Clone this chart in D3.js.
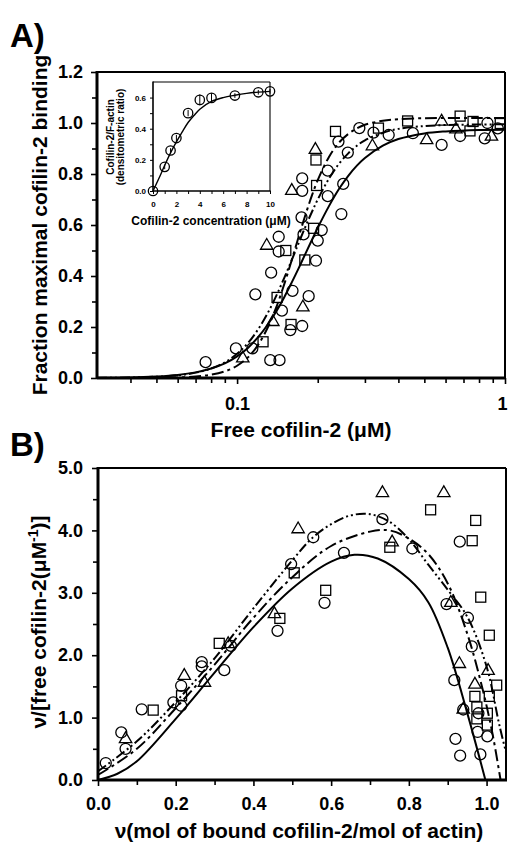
<!DOCTYPE html>
<html>
<head>
<meta charset="utf-8">
<script src="https://d3js.org/d3.v7.min.js"></script>
<style>
  body { margin: 0; background: #fff; }
  text { font-family: "Liberation Sans", Arial, sans-serif; font-weight: bold; fill: #000; }
</style>
</head>
<body>
<script>

// ---------- data, panel A (main: free cofilin-2 vs fraction bound)

const aCircles = [[0.0763,0.062],[0.099,0.116],[0.114,0.116],[0.133,0.07],[0.144,0.07],[0.117,0.328],
  [0.134,0.413],[0.143,0.554],[0.143,0.496],[0.174,0.63],[0.175,0.783],[0.175,0.734],[0.218,0.813],
  [0.239,0.927],[0.218,0.713],[0.245,0.643],[0.207,0.58],[0.2,0.539],[0.197,0.46],[0.177,0.563],
  [0.161,0.342],[0.185,0.321],[0.147,0.264],[0.175,0.204],[0.158,0.188],[0.259,0.884],[0.249,0.761],
  [0.286,0.98],[0.323,0.962],[0.368,0.953],[0.453,0.96],[0.58,0.914],[0.68,0.949],[0.86,1.0],
  [0.84,0.94],[0.94,0.979]];
const aSquares = [[0.125,0.142],[0.152,0.5],[0.198,0.755],[0.233,0.967],[0.197,0.855],[0.193,0.587],
  [0.179,0.463],[0.141,0.316],[0.159,0.21],[0.337,0.98],[0.433,1.008],[0.68,1.027],[0.74,0.969],
  [0.76,1.006],[0.96,0.998]];
const aTriangles = [[0.105,0.077],[0.129,0.519],[0.16,0.734],[0.196,0.895],[0.176,0.277],[0.136,0.22],
  [0.32,0.909],[0.51,0.933],[0.58,1.006],[0.656,0.975],[0.89,0.947]];

// fitted curves, read at these concentrations
const aCurveX = [0.03,0.04,0.05,0.06,0.07,0.08,0.09,0.10,0.11,0.12,0.13,0.14,0.15,0.16,0.17,0.18,0.19,
  0.20,0.22,0.24,0.26,0.28,0.30,0.35,0.40,0.50,0.60,0.80,1.0];
const aSolid = [0.001,0.002,0.006,0.012,0.022,0.037,0.057,0.085,0.119,0.161,0.209,0.261,0.317,0.375,
  0.432,0.488,0.540,0.589,0.673,0.741,0.793,0.833,0.863,0.911,0.937,0.959,0.967,0.973,0.974];
const aDashDot = [0.0,0.0,0.001,0.002,0.006,0.013,0.026,0.048,0.082,0.131,0.197,0.277,0.368,0.463,
  0.556,0.640,0.714,0.776,0.866,0.923,0.957,0.979,0.993,1.009,1.015,1.019,1.02,1.02,1.02];
const aDashDotDot = [0.0,0.002,0.005,0.010,0.021,0.037,0.061,0.095,0.138,0.192,0.254,0.322,0.393,0.463,
  0.531,0.594,0.650,0.700,0.781,0.840,0.881,0.911,0.932,0.962,0.977,0.988,0.992,0.994,0.995];

// inset: cofilin-2 concentration vs densitometric ratio
const insetX = [0, 1, 1.5, 2, 3, 4, 5, 7, 9, 10];
const insetY = [0, 0.155, 0.26, 0.34, 0.50, 0.585, 0.598, 0.613, 0.634, 0.64];
const insetErr = [0, 0.015, 0.015, 0.02, 0.02, 0.035, 0.03, 0.015, 0.015, 0.015];
const insetCurveX = [0, 0.5, 1, 1.5, 2, 2.5, 3, 3.5, 4, 5, 6, 7, 8, 9, 10];
const insetCurveY = [0, 0.08, 0.165, 0.245, 0.315, 0.38, 0.44, 0.485, 0.525, 0.575, 0.6, 0.615, 0.627, 0.635, 0.64];

// ---------- data, panel B (Scatchard-type plot)

const bCircles = [[0.02,0.272],[0.06,0.762],[0.071,0.5],[0.1125,1.133],[0.194,1.245],[0.214,1.19],
  [0.214,1.51],[0.267,1.82],[0.267,1.89],[0.325,1.76],[0.342,2.15],[0.462,2.39],[0.497,3.46],
  [0.554,3.89],[0.633,3.64],[0.732,4.18],[0.931,3.82],[0.809,3.71],[0.583,2.84],[0.897,2.82],
  [0.952,2.6],[0.962,2.14],[0.917,1.6],[0.94,1.13],[0.979,1.07],[0.977,0.77],[1.002,0.7],
  [0.92,0.66],[0.932,0.39],[0.984,0.41]];
const bSquares = [[0.142,1.12],[0.215,1.35],[0.312,2.19],[0.468,2.59],[0.505,3.32],[0.586,3.04],
  [0.751,3.73],[0.856,4.33],[0.972,4.16],[0.963,3.835],[0.985,2.93],[1.007,2.32],[1.026,1.52],
  [0.97,1.34],[1.007,1.34],[0.975,0.98],[1.002,1.07],[1.002,0.88],[0.975,1.17]];
const bTriangles = [[0.071,0.657],[0.222,1.67],[0.274,1.56],[0.335,2.18],[0.454,2.66],[0.515,4.02],
  [0.732,4.6],[0.89,4.6],[0.757,3.81],[0.908,2.84],[0.93,1.86],[1.004,1.75],[0.97,1.53],[0.94,1.13]];

const bSolid = [[0,0],[0.05,0.1],[0.1,0.3],[0.2,0.98],[0.3,1.72],[0.4,2.45],[0.5,3.07],[0.6,3.5],
  [0.66,3.61],[0.72,3.55],[0.8,3.22],[0.85,2.85],[0.9,2.12],[0.95,1.08],[0.997,0]];
const bDashDot = [[0,0.08],[0.1,0.5],[0.2,1.15],[0.3,1.85],[0.4,2.6],[0.5,3.25],[0.6,3.75],[0.7,3.98],
  [0.75,4.0],[0.8,3.87],[0.85,3.62],[0.9,3.15],[0.95,2.35],[0.99,1.45],[1.015,0.75],[1.036,0]];
const bDashDotDot = [[0,0.14],[0.1,0.62],[0.2,1.25],[0.3,1.95],[0.4,2.75],[0.5,3.52],[0.55,3.87],
  [0.6,4.1],[0.65,4.24],[0.7,4.26],[0.75,4.14],[0.8,3.86],[0.85,3.45],[0.9,3.05],[0.95,2.62],
  [1.0,1.82],[1.034,0.85],[1.06,0.2]];

// ---------- svg

const svg = d3.select("body").append("svg")
  .attr("width", 508)
  .attr("height", 845);

const dashDot = "12,4,3,4";
const dashDotDot = "10,3,2,3,2,3";

// draw open markers of the three kinds
function drawMarkers(g, pts, kind, x, y, s) {
  const sel = g.append("g").selectAll("path").data(pts).enter();
  if (kind === "circle") {
    sel.append("circle")
      .attr("cx", d => x(d[0])).attr("cy", d => y(d[1]))
      .attr("r", s)
      .attr("fill", "none").attr("stroke", "#000").attr("stroke-width", 1.3);
  } else if (kind === "square") {
    sel.append("rect")
      .attr("x", d => x(d[0]) - s).attr("y", d => y(d[1]) - s)
      .attr("width", s * 2).attr("height", s * 2)
      .attr("fill", "none").attr("stroke", "#000").attr("stroke-width", 1.3);
  } else {
    sel.append("path")
      .attr("transform", d => `translate(${x(d[0])},${y(d[1])})`)
      .attr("d", d3.symbol(d3.symbolTriangle, s * s * 2.2)())
      .attr("fill", "none").attr("stroke", "#000").attr("stroke-width", 1.3);
  }
}

function styleAxis(g, size) {
  g.selectAll("text").style("font-size", size + "px").style("font-family", '"Liberation Sans", Arial, sans-serif').style("font-weight", "bold");
  g.selectAll("line").attr("stroke-width", 1.6);
}

// frame: thick left/bottom (axes), thinner top/right
function frame(g, x0, x1, y0, y1, wAxis, wBox) {
  g.append("line").attr("x1", x0).attr("x2", x1).attr("y1", y0).attr("y2", y0).attr("stroke", "#000").attr("stroke-width", wBox);
  g.append("line").attr("x1", x1).attr("x2", x1).attr("y1", y0).attr("y2", y1).attr("stroke", "#000").attr("stroke-width", wBox);
  g.append("line").attr("x1", x0).attr("x2", x0).attr("y1", y0 - wBox / 2).attr("y2", y1).attr("stroke", "#000").attr("stroke-width", wAxis);
  g.append("line").attr("x1", x0).attr("x2", x1 + wBox / 2).attr("y1", y1).attr("y2", y1).attr("stroke", "#000").attr("stroke-width", wAxis);
}

// =================== PANEL A ===================

const xA = d3.scaleLog().domain([0.03, 1]).range([97, 505]);
const yA = d3.scaleLinear().domain([0, 1.2]).range([378, 72]);

svg.append("defs").append("clipPath").attr("id", "clipA")
  .append("rect").attr("x", 97).attr("y", 72).attr("width", 408).attr("height", 306);

// y axis major + minor
const gAy = svg.append("g").attr("transform", "translate(97,0)")
  .call(d3.axisLeft(yA).tickValues([0, 0.2, 0.4, 0.6, 0.8, 1.0, 1.2]).tickFormat(d3.format(".1f")).tickSize(6).tickPadding(8));
gAy.select(".domain").remove();
styleAxis(gAy, 18);
const gAym = svg.append("g").attr("transform", "translate(97,0)")
  .call(d3.axisLeft(yA).tickValues([0.1, 0.3, 0.5, 0.7, 0.9, 1.1]).tickFormat("").tickSize(5));
gAym.select(".domain").remove();
styleAxis(gAym, 18);

// x axis (log)
const gAx = svg.append("g").attr("transform", "translate(0,378)")
  .call(d3.axisBottom(xA).tickValues([0.1, 1]).tickFormat(d => String(d)).tickSize(6).tickPadding(13));
gAx.select(".domain").remove();
styleAxis(gAx, 18);
// keep the "1" at the right edge inside the page
gAx.selectAll(".tick text").filter(d => d === 1).attr("dx", -3);
const gAxm = svg.append("g").attr("transform", "translate(0,378)")
  .call(d3.axisBottom(xA).tickValues([0.04,0.05,0.06,0.07,0.08,0.09,0.2,0.3,0.4,0.5,0.6,0.7,0.8,0.9]).tickFormat("").tickSize(5));
gAxm.select(".domain").remove();
styleAxis(gAxm, 18);

frame(svg, 97, 505, 72, 378, 3, 2);

// curves
const plotA = svg.append("g").attr("clip-path", "url(#clipA)");
const lineA = d3.line().x(d => xA(d[0])).y(d => yA(d[1])).curve(d3.curveCatmullRom);
plotA.append("path").datum(d3.zip(aCurveX, aSolid)).attr("d", lineA)
  .attr("fill", "none").attr("stroke", "#000").attr("stroke-width", 2);
plotA.append("path").datum(d3.zip(aCurveX, aDashDot)).attr("d", lineA)
  .attr("fill", "none").attr("stroke", "#000").attr("stroke-width", 2).attr("stroke-dasharray", dashDot);
plotA.append("path").datum(d3.zip(aCurveX, aDashDotDot)).attr("d", lineA)
  .attr("fill", "none").attr("stroke", "#000").attr("stroke-width", 2).attr("stroke-dasharray", dashDotDot);

drawMarkers(plotA, aCircles, "circle", xA, yA, 5.5);
drawMarkers(plotA, aSquares, "square", xA, yA, 5);
drawMarkers(plotA, aTriangles, "triangle", xA, yA, 5.5);

// titles
svg.append("text").attr("x", 10).attr("y", 47).style("font-size", "33px").text("A)");
svg.append("text").attr("x", 301).attr("y", 437).attr("text-anchor", "middle")
  .style("font-size", "21px").text("Free cofilin-2 (μM)");
svg.append("text").attr("transform", "translate(47,225) rotate(-90)").attr("text-anchor", "middle")
  .style("font-size", "21px").text("Fraction maximal cofilin-2 binding");

// ---------- inset
const xI = d3.scaleLinear().domain([0, 10]).range([153, 270]);
const yI = d3.scaleLinear().domain([0, 0.7]).range([191, 82]);

svg.append("rect").attr("x", 153).attr("y", 82).attr("width", 117).attr("height", 109).attr("fill", "#fff");

const gIy = svg.append("g").attr("transform", "translate(153,0)")
  .call(d3.axisLeft(yI).tickValues([0, 0.2, 0.4, 0.6]).tickFormat(d3.format(".1f")).tickSize(3).tickPadding(4));
gIy.select(".domain").remove();
styleAxis(gIy, 8);
const gIym = svg.append("g").attr("transform", "translate(153,0)")
  .call(d3.axisLeft(yI).tickValues([0.1, 0.3, 0.5]).tickFormat("").tickSize(3));
gIym.select(".domain").remove();
styleAxis(gIym, 8);
const gIx = svg.append("g").attr("transform", "translate(0,191)")
  .call(d3.axisBottom(xI).tickValues([0, 2, 4, 6, 8, 10]).tickSize(3).tickPadding(7));
gIx.select(".domain").remove();
styleAxis(gIx, 8);
const gIxm = svg.append("g").attr("transform", "translate(0,191)")
  .call(d3.axisBottom(xI).tickValues([1, 3, 5, 7, 9]).tickFormat("").tickSize(3));
gIxm.select(".domain").remove();
styleAxis(gIxm, 8);
[gIy, gIym, gIx, gIxm].forEach(g => g.selectAll("line").attr("stroke-width", 1));

frame(svg, 153, 270, 82, 191, 1.6, 1.1);

svg.append("path").datum(d3.zip(insetCurveX, insetCurveY))
  .attr("d", d3.line().x(d => xI(d[0])).y(d => yI(d[1])).curve(d3.curveCatmullRom))
  .attr("fill", "none").attr("stroke", "#000").attr("stroke-width", 1.4);

const insetPts = d3.zip(insetX, insetY, insetErr);
svg.append("g").selectAll("line").data(insetPts).enter().append("line")
  .attr("x1", d => xI(d[0])).attr("x2", d => xI(d[0]))
  .attr("y1", d => yI(d[1] - d[2])).attr("y2", d => yI(d[1] + d[2]))
  .attr("stroke", "#000").attr("stroke-width", 1);
drawMarkers(svg, insetPts, "circle", xI, yI, 4.7);

svg.append("text").attr("x", 211).attr("y", 225).attr("text-anchor", "middle")
  .style("font-size", "12px").text("Cofilin-2 concentration (μM)");
svg.append("text").attr("transform", "translate(114,137) rotate(-90)").attr("text-anchor", "middle")
  .style("font-size", "10px").text("Cofilin-2/F-actin");
svg.append("text").attr("transform", "translate(124,137) rotate(-90)").attr("text-anchor", "middle")
  .style("font-size", "10px").text("(densitometric ratio)");

// =================== PANEL B ===================

const xB = d3.scaleLinear().domain([0, 1.05]).range([98, 506]);
const yB = d3.scaleLinear().domain([0, 5]).range([780, 468]);

svg.select("defs").append("clipPath").attr("id", "clipB")
  .append("rect").attr("x", 98).attr("y", 468).attr("width", 408).attr("height", 312);

const gBy = svg.append("g").attr("transform", "translate(98,0)")
  .call(d3.axisLeft(yB).tickValues([0, 1, 2, 3, 4, 5]).tickFormat(d3.format(".1f")).tickSize(6).tickPadding(9));
gBy.select(".domain").remove();
styleAxis(gBy, 18);
const gBym = svg.append("g").attr("transform", "translate(98,0)")
  .call(d3.axisLeft(yB).tickValues([0.5, 1.5, 2.5, 3.5, 4.5]).tickFormat("").tickSize(5));
gBym.select(".domain").remove();
styleAxis(gBym, 18);
const gBx = svg.append("g").attr("transform", "translate(0,780)")
  .call(d3.axisBottom(xB).tickValues([0, 0.2, 0.4, 0.6, 0.8, 1.0]).tickFormat(d3.format(".1f")).tickSize(6).tickPadding(11));
gBx.select(".domain").remove();
styleAxis(gBx, 18);
const gBxm = svg.append("g").attr("transform", "translate(0,780)")
  .call(d3.axisBottom(xB).tickValues([0.1, 0.3, 0.5, 0.7, 0.9]).tickFormat("").tickSize(5));
gBxm.select(".domain").remove();
styleAxis(gBxm, 18);

frame(svg, 98, 506, 468, 780, 3, 2);

const plotB = svg.append("g").attr("clip-path", "url(#clipB)");
const lineB = d3.line().x(d => xB(d[0])).y(d => yB(d[1])).curve(d3.curveCatmullRom);
plotB.append("path").datum(bSolid).attr("d", lineB)
  .attr("fill", "none").attr("stroke", "#000").attr("stroke-width", 2);
plotB.append("path").datum(bDashDot).attr("d", lineB)
  .attr("fill", "none").attr("stroke", "#000").attr("stroke-width", 2).attr("stroke-dasharray", dashDot);
plotB.append("path").datum(bDashDotDot).attr("d", lineB)
  .attr("fill", "none").attr("stroke", "#000").attr("stroke-width", 2).attr("stroke-dasharray", dashDotDot);

drawMarkers(plotB, bCircles, "circle", xB, yB, 5.5);
drawMarkers(plotB, bSquares, "square", xB, yB, 5);
drawMarkers(plotB, bTriangles, "triangle", xB, yB, 5.5);

svg.append("text").attr("x", 10).attr("y", 456).style("font-size", "33px").text("B)");
svg.append("text").attr("x", 299).attr("y", 838).attr("text-anchor", "middle")
  .style("font-size", "21px").text("ν(mol of bound cofilin-2/mol of actin)");

const yTitleB = svg.append("text").attr("transform", "translate(46,622) rotate(-90)").attr("text-anchor", "middle")
  .style("font-size", "21px");
yTitleB.append("tspan").text("ν/[free cofilin-2(μM");
yTitleB.append("tspan").attr("dy", -8).style("font-size", "14px").text("-1");
yTitleB.append("tspan").attr("dy", 8).text(")]");

</script>
</body>
</html>
